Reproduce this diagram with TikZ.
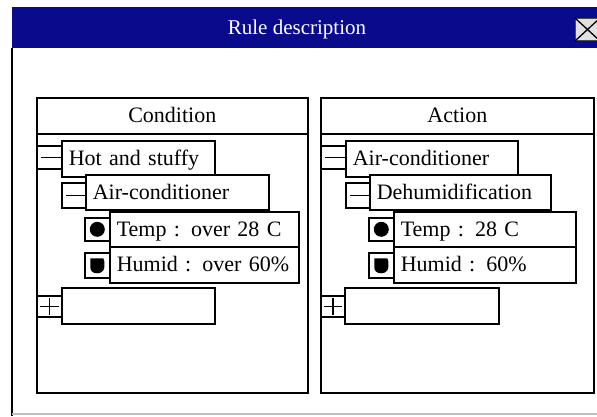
\documentclass[tikz,border=0pt]{standalone}
\usepackage{fontspec}
\setmainfont{Liberation Serif}
\definecolor{titlebar}{RGB}{10,10,140}
\definecolor{btnface}{RGB}{225,225,225}
\begin{document}
\begin{tikzpicture}[x=1pt,y=-1pt,
  ln/.style={line width=1.6pt},
  panel/.style={draw=black, ln, anchor=north west, inner sep=0pt},
  head/.style={draw=black, ln, anchor=north west, inner sep=0pt,
    text height=14pt, text depth=0pt, font=\fontsize{22}{26}\selectfont},
  entry/.style={draw=black, fill=white, ln, anchor=north west, inner xsep=7pt, inner ysep=0pt,
    text height=14pt, text depth=0pt, align=left, font=\fontsize{22}{26}\selectfont},
  toggle/.style={draw=black, fill=white, ln, anchor=north west, inner sep=0pt},
  sign/.style={line width=1.4pt},
  shield/.pic={
    \fill (-7,-7) -- (6,-7) -- (7,-4) -- (7,2)
      .. controls (7,6) and (3,8) .. (0,8)
      .. controls (-4,8) and (-7,6) .. (-7,2) -- cycle;
  },
]
\useasboundingbox (0,0) rectangle (597,416);
\fill[white] (0,0) rectangle (597,416);

% window frame and title bar
\node[fill=titlebar, anchor=north west, minimum width=585pt, minimum height=41pt, inner sep=0pt] (bar) at (12,7) {};
\node[text=white, font=\fontsize{21}{24}\selectfont, inner sep=0pt, text height=14pt, text depth=0pt] (title) at (297,27) {Rule description};
\node[draw=black!70, fill=btnface, line width=1pt, anchor=north west, minimum width=24pt, minimum height=22pt, inner sep=0pt] (close) at (575,18) {};
\draw[line width=1.3pt] (close.north west) -- (close.south east);
\draw[line width=1.3pt] (close.south west) -- (close.north east);
\coordinate (wintop) at (12,48);
\coordinate (winbot) at (12,416);
\draw[ln] (wintop) -- (winbot);
\coordinate (basel) at (12,414);
\coordinate (baser) at (597,414);
\draw[black!25, line width=1.2pt] (basel) -- (baser);

% condition panel
\node[panel, minimum width=271pt, minimum height=295pt] (cond) at (36,97) {};
\node[head, minimum width=271pt, minimum height=36pt] (condhead) at (36,97) {Condition};

% action panel
\node[panel, minimum width=273pt, minimum height=295pt] (act) at (320,97) {};
\node[head, minimum width=273pt, minimum height=36pt] (acthead) at (320,97) {Action};

% ---- condition tree ----
\node[entry, minimum width=153pt, minimum height=36pt, text width=139pt] (c1) at (61,140) {Hot and stuffy};
\node[toggle, minimum width=25pt, minimum height=23pt] (c1t) at (36,145) {};
\draw[sign] ([xshift=5pt]c1t.west) -- (c1t.east);

\node[entry, minimum width=183pt, minimum height=35pt, text width=169pt] (c2) at (85,174) {Air-conditioner};
\node[toggle, minimum width=24pt, minimum height=25pt] (c2t) at (61,182) {};
\draw[sign] ([xshift=5pt]c2t.west) -- (c2t.east);

\node[entry, minimum width=189pt, minimum height=35pt, text width=175pt] (c3) at (109,211) {Temp : over 28 C};
\node[toggle, minimum width=25pt, minimum height=23pt] (c3t) at (84,217) {};
\fill (c3t.center) circle (7.5pt);

\node[entry, minimum width=189pt, minimum height=36pt, text width=175pt] (c4) at (109,246) {Humid : over 60\%};
\node[toggle, minimum width=25pt, minimum height=25pt] (c4t) at (84,252) {};
\pic at (c4t.center) {shield};

\node[entry, minimum width=153pt, minimum height=36pt, text width=139pt] (c5) at (61,287) {};
\node[toggle, minimum width=25pt, minimum height=21pt] (c5t) at (36,295) {};
\draw[sign] ([xshift=4pt]c5t.west) -- ([xshift=-4pt]c5t.east);
\draw[sign] ([yshift=-3pt]c5t.north) -- ([yshift=3pt]c5t.south);

% ---- action tree ----
\node[entry, minimum width=172pt, minimum height=36pt, text width=158pt] (a1) at (345,140) {Air-conditioner};
\node[toggle, minimum width=25pt, minimum height=23pt] (a1t) at (320,145) {};
\draw[sign] ([xshift=5pt]a1t.west) -- (a1t.east);

\node[entry, minimum width=181pt, minimum height=35pt, text width=167pt] (a2) at (369,174) {Dehumidification};
\node[toggle, minimum width=24pt, minimum height=25pt] (a2t) at (345,182) {};
\draw[sign] ([xshift=5pt]a2t.west) -- (a2t.east);

\node[entry, minimum width=182pt, minimum height=35pt, text width=168pt] (a3) at (393,211) {Temp : 28 C};
\node[toggle, minimum width=25pt, minimum height=23pt] (a3t) at (368,217) {};
\fill (a3t.center) circle (7.5pt);

\node[entry, minimum width=182pt, minimum height=36pt, text width=168pt] (a4) at (393,246) {Humid : 60\%};
\node[toggle, minimum width=25pt, minimum height=25pt] (a4t) at (368,252) {};
\pic at (a4t.center) {shield};

\node[entry, minimum width=154pt, minimum height=36pt, text width=140pt] (a5) at (344,287) {};
\node[toggle, minimum width=24pt, minimum height=21pt] (a5t) at (320,295) {};
\draw[sign] ([xshift=4pt]a5t.west) -- ([xshift=-4pt]a5t.east);
\draw[sign] ([yshift=-3pt]a5t.north) -- ([yshift=3pt]a5t.south);
\end{tikzpicture}
\end{document}
